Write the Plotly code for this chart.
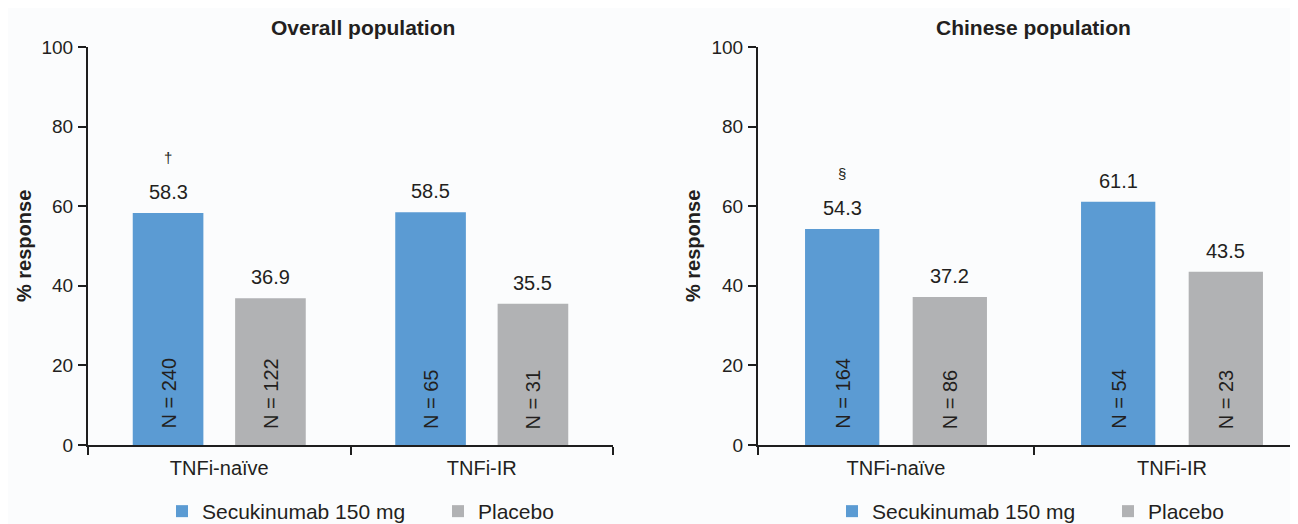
import plotly.graph_objects as go

# ---- data ----
categories = ["TNFi-naïve", "TNFi-IR"]
series_names = ["Secukinumab 150 mg", "Placebo"]
overall_secukinumab = [58.3, 58.5]
overall_placebo = [36.9, 35.5]
chinese_secukinumab = [54.3, 61.1]
chinese_placebo = [37.2, 43.5]
overall_n_secukinumab = [240, 65]
overall_n_placebo = [122, 31]
chinese_n_secukinumab = [164, 54]
chinese_n_placebo = [86, 23]
overall_marks = ["†", ""]
chinese_marks = ["§", ""]
panel_titles = ["Overall population", "Chinese population"]
y_title = "% response"
y_ticks = [0, 20, 40, 60, 80, 100]

# ---- style ----
W, H = 1298, 524
PAGE_OFF = 8  # default page body margin shifts the figure by this much
BLUE = "#5b9bd3"
GREY = "#b1b2b4"
TXT = "#231f20"
AX = "#1e1e1e"
BG = "#fbfcfd"
FONT = "Arial, Liberation Sans, sans-serif"
FS_TICK_Y = 19
FS_TICK_X = 20
FS_VAL = 20
FS_LEG = 21
FS_TITLE = 21
FS_YTITLE = 20
BARGAP = 0.22
BARGROUPGAP = 0.31
OFF = (1 - BARGAP) / 4  # center offset of each bar in the group
LEGEND_WIDTHS = [231, 80]

def px_x(p):
    return (p - PAGE_OFF) / W

def px_y(p):
    return (H - (p - PAGE_OFF)) / H

fig = go.Figure()

panels = [
    dict(secu=overall_secukinumab, pbo=overall_placebo,
         nsecu=overall_n_secukinumab, npbo=overall_n_placebo,
         marks=overall_marks, xa="x", ya="y", legend="legend"),
    dict(secu=chinese_secukinumab, pbo=chinese_placebo,
         nsecu=chinese_n_secukinumab, npbo=chinese_n_placebo,
         marks=chinese_marks, xa="x2", ya="y2", legend="legend2"),
]

annotations = []
for p in panels:
    for k, (name, vals, color, og) in enumerate([(series_names[0], p["secu"], BLUE, "a"),
                                                 (series_names[1], p["pbo"], GREY, "b")]):
        fig.add_trace(go.Bar(
            x=categories, y=vals, name=name, marker=dict(color=color, line=dict(width=0)),
            offsetgroup=og, xaxis=p["xa"], yaxis=p["ya"], legend=p["legend"],
            legendwidth=LEGEND_WIDTHS[k], hoverinfo="skip",
        ))
    for i, cat in enumerate(categories):
        for off, v, n in [(-OFF, p["secu"][i], p["nsecu"][i]), (OFF, p["pbo"][i], p["npbo"][i])]:
            xpos = i + off
            annotations.append(dict(
                x=xpos, y=v, xref=p["xa"], yref=p["ya"], text=f"{v:.1f}",
                showarrow=False, yanchor="middle", yshift=21,
                font=dict(family=FONT, size=FS_VAL, color=TXT)))
            annotations.append(dict(
                x=xpos, y=0, xref=p["xa"], yref=p["ya"], text=f"N = {n}",
                showarrow=False, yanchor="bottom", textangle=-90, yshift=14,
                font=dict(family=FONT, size=FS_VAL, color=TXT)))
        if p["marks"][i]:
            annotations.append(dict(
                x=i - OFF, y=p["secu"][i], xref=p["xa"], yref=p["ya"], text=p["marks"][i],
                showarrow=False, yanchor="middle", yshift=55,
                font=dict(family=FONT, size=15, color=TXT)))

# panel titles
for t, cx in zip(panel_titles, [363, 1033]):
    annotations.append(dict(
        x=px_x(cx), y=px_y(28), xref="paper", yref="paper", text=f"<b>{t}</b>",
        showarrow=False, xanchor="center", yanchor="middle",
        font=dict(family=FONT, size=FS_TITLE, color=TXT)))

# y-axis titles
for cx in [24, 693]:
    annotations.append(dict(
        x=px_x(cx), y=px_y(246), xref="paper", yref="paper", text=f"<b>{y_title}</b>",
        showarrow=False, xanchor="center", yanchor="middle", textangle=-90,
        font=dict(family=FONT, size=FS_YTITLE, color=TXT)))

ydom = [px_y(445), px_y(47)]
xaxis_common = dict(
    type="category", showline=True, linecolor=AX, linewidth=2, ticks="outside",
    tickson="boundaries", ticklen=8, tickwidth=2, tickcolor=AX, showgrid=False,
    zeroline=False, tickfont=dict(family=FONT, size=FS_TICK_X, color=TXT), fixedrange=True,
    automargin=False, ticklabelstandoff=4,
)
yaxis_common = dict(
    range=[0, 100], tickvals=y_ticks, showline=True, linecolor=AX, linewidth=2,
    ticks="outside", ticklen=8, tickwidth=2, tickcolor=AX, showgrid=False,
    zeroline=False, tickfont=dict(family=FONT, size=FS_TICK_Y, color=TXT),
    ticklabelstandoff=1, fixedrange=True, automargin=False,
)

legend_common = dict(
    orientation="h", yanchor="bottom", xanchor="left", bgcolor="rgba(0,0,0,0)",
    font=dict(family=FONT, size=FS_LEG, color=TXT), itemwidth=30, traceorder="normal",
    borderwidth=0,
)

# right panel axis runs past the visible edge
right_start = 758
cat_w_right = 276
right_end_page = W + PAGE_OFF
x2_end = -0.5 + (right_end_page - right_start) / cat_w_right

fig.update_layout(
    width=W, height=H, paper_bgcolor=BG, plot_bgcolor=BG,
    margin=dict(l=0, r=0, t=0, b=0, pad=0),
    barmode="group", bargap=BARGAP, bargroupgap=BARGROUPGAP,
    xaxis=dict(domain=[px_x(88), px_x(613)], anchor="y", range=[-0.5, 1.5], **xaxis_common),
    yaxis=dict(domain=ydom, anchor="x", **yaxis_common),
    xaxis2=dict(domain=[px_x(right_start), 1.0], anchor="y2", range=[-0.5, x2_end], **xaxis_common),
    yaxis2=dict(domain=ydom, anchor="x2", **yaxis_common),
    legend=dict(x=px_x(162), y=0.0, **legend_common),
    legend2=dict(x=px_x(832), y=0.0, **legend_common),
    annotations=annotations,
    font=dict(family=FONT, color=TXT),
)

fig.write_html("out.html")
